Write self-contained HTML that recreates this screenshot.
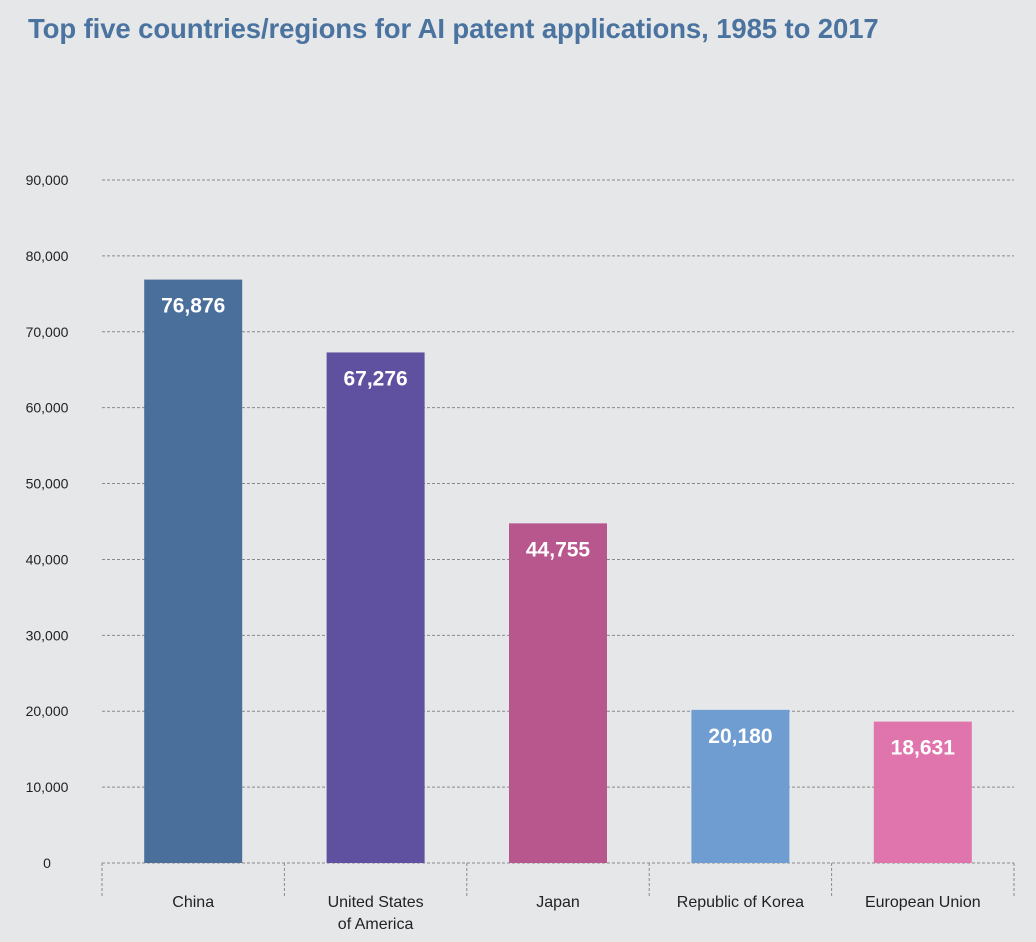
<!DOCTYPE html>
<html><head><meta charset="utf-8"><style>
body{margin:0;background:#e6e7e9;width:1036px;height:942px;overflow:hidden;font-family:"Liberation Sans",sans-serif;}
#title{position:absolute;left:28px;top:13px;font-size:27.5px;font-weight:bold;color:#4a73a0;letter-spacing:-0.1px;white-space:nowrap;}
svg{position:absolute;left:0;top:0;}
</style></head><body>
<div id="title">Top five countries/regions for AI patent applications, 1985 to 2017</div>
<svg id="chart" width="1036" height="942"></svg>
<script>
const categories=["China","United States|of America","Japan","Republic of Korea","European Union"];
const values=[76876,67276,44755,20180,18631];
const valueLabels=["76,876","67,276","44,755","20,180","18,631"];
const yTicks=[0,10000,20000,30000,40000,50000,60000,70000,80000,90000];
const yTickLabels=["0","10,000","20,000","30,000","40,000","50,000","60,000","70,000","80,000","90,000"];
const colors=["#4a6f9b","#5f50a0","#b8568e","#6f9dd2","#e074ad"];
const NS="http://www.w3.org/2000/svg";
const svg=document.getElementById('chart');
const x0=102,x1=1014,yBase=863,yTop=180,yMax=90000;
const y=v=>yBase-(v/yMax)*(yBase-yTop);
const band=(x1-x0)/categories.length;
const bx=i=>x0+band*i;
function mk(t,a){const e=document.createElementNS(NS,t);for(const k in a)e.setAttribute(k,a[k]);svg.appendChild(e);return e;}
yTicks.forEach((t,i)=>{
  const g=mk('line',{x1:x0,x2:x1,y1:y(t),y2:y(t),stroke:'#8a8a8a','stroke-width':1,'stroke-dasharray':'3,2'});
  
  
  const l=mk('text',{x:47,y:y(t)+5,'text-anchor':'middle','font-size':14,fill:'#222'});
  l.textContent=yTickLabels[i];
  
  
});
for(let i=0;i<=categories.length;i++){
  const s=mk('line',{x1:bx(i),x2:bx(i),y1:yBase,y2:897,stroke:'#8a8a8a','stroke-width':1,'stroke-dasharray':'3,2'});
  
  
}
const bw=98;
values.forEach((v,i)=>{
  const cx=bx(i)+band/2;
  const r=mk('rect',{x:cx-bw/2,y:y(v),width:bw,height:yBase-y(v),fill:colors[i]});
  
  
  const t=mk('text',{x:cx,y:y(v)+33,'text-anchor':'middle','font-size':21,'font-weight':'bold',fill:'#fff'});
  t.textContent=valueLabels[i];
  
  
  categories[i].split('|').forEach((ln,j)=>{
    const c=mk('text',{x:cx,y:907+j*22,'text-anchor':'middle','font-size':16,fill:'#222'});
    c.textContent=ln;
    
    
  });
});
</script>
</body></html>
